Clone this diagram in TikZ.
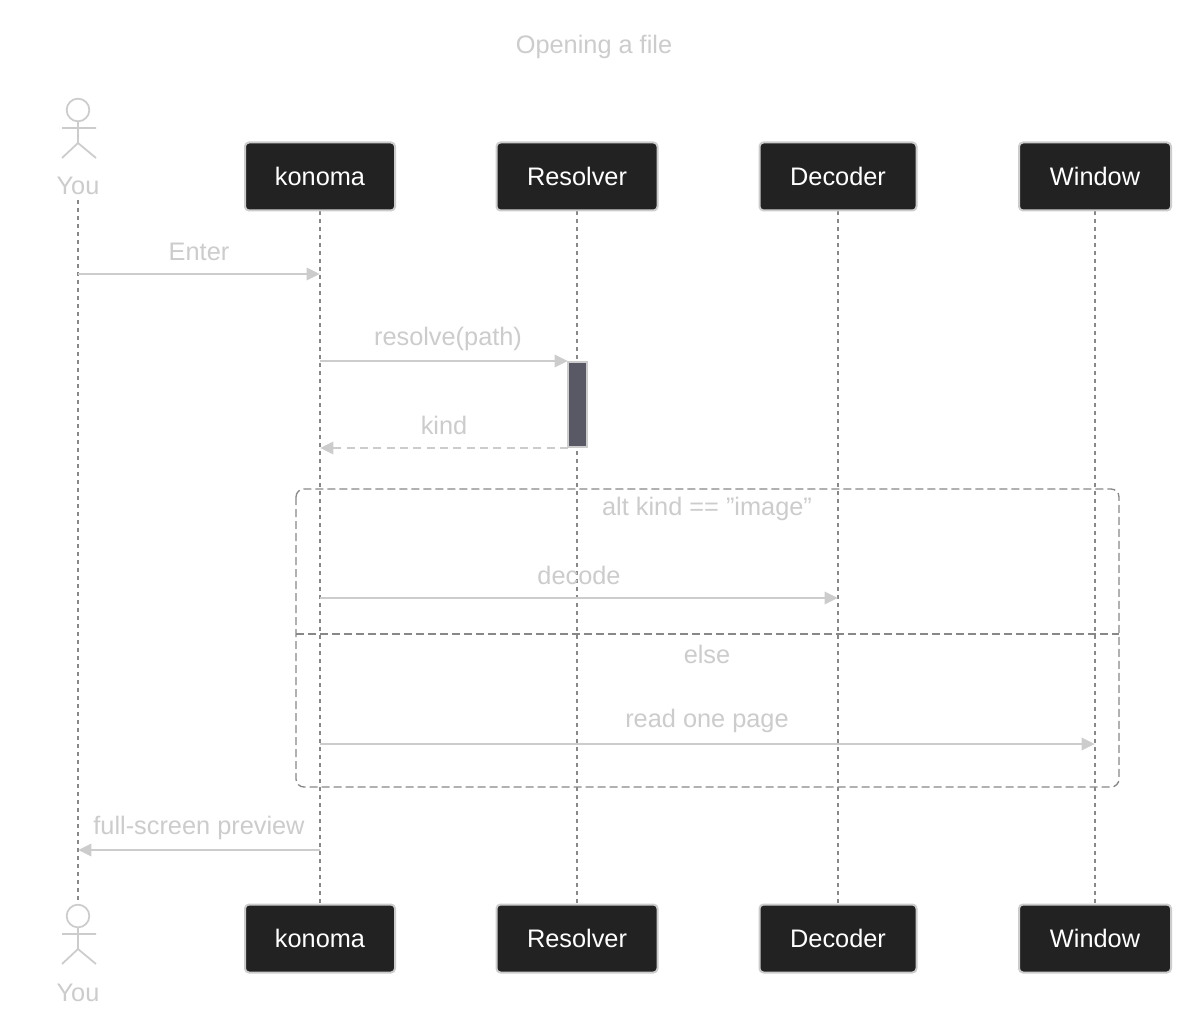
\documentclass[tikz,border=0pt]{standalone}
\usepackage{fontspec}
\setmainfont{Liberation Sans}
\usetikzlibrary{arrows.meta}
\definecolor{lt}{HTML}{CCCCCC}
\definecolor{boxf}{HTML}{222222}
\definecolor{dgray}{HTML}{888888}
\definecolor{actv}{HTML}{595966}
\tikzset{
 part/.style={draw=lt,line width=1.5pt,fill=boxf,rounded corners=3pt,text=white,font=\fontsize{19}{22}\selectfont,minimum height=51pt,inner sep=0pt},
 life/.style={draw=dgray,line width=0.9pt,dash pattern=on 3pt off 3pt},
 msg/.style={draw=lt,line width=2.2pt,-{Triangle[length=10pt,width=9pt,fill=lt]}},
 lbl/.style={text=lt,font=\fontsize{19}{22}\selectfont},
 actor/.style={draw=lt,line width=1.3pt}
}
\begin{document}
\begin{tikzpicture}[x=0.75pt,y=-0.75pt]
\useasboundingbox[fill=white] (0,0) rectangle (1188,1034);
\node[lbl] (title) at (594,47) {Opening a file};
\coordinate (y0) at (78,200); \coordinate (y1) at (78,904);
\draw[life] (y0) -- (y1);
\foreach \n/\x in {k/320,r/577,d/838,w/1095}{
 \coordinate (\n t) at (\x,211); \coordinate (\n b) at (\x,904);
 \draw[life] (\n t) -- (\n b);
}
\node[part,minimum width=112.5pt] (k1) at (320,176.5) {konoma};
\node[part,minimum width=120.75pt] (r1) at (577,176.5) {Resolver};
\node[part,minimum width=117.75pt] (d1) at (838,176.5) {Decoder};
\node[part,minimum width=114pt] (w1) at (1095,176.5) {Window};
\node[part,minimum width=112.5pt] (k2) at (320,938.5) {konoma};
\node[part,minimum width=120.75pt] (r2) at (577,938.5) {Resolver};
\node[part,minimum width=117.75pt] (d2) at (838,938.5) {Decoder};
\node[part,minimum width=114pt] (w2) at (1095,938.5) {Window};
\foreach \yy/\ly/\nm in {0/186/ua,806/993/ub}{
 \begin{scope}[yshift=-\yy*0.75pt]
 \draw[actor] (78,110) circle[radius=8.5pt];
 \draw[actor] (78,121) -- (78,143) (62,128) -- (96,128) (62,158) -- (78,143) -- (96,158);
 \end{scope}
 \node[lbl] (\nm) at (78,\ly) {You};
}
\coordinate (e1) at (78,274); \coordinate (e2) at (320,274);
\draw[msg] (e1) -- (e2); \node[lbl] (le) at (199,252) {Enter};
\coordinate (p1) at (320,361); \coordinate (p2) at (568,361);
\draw[msg] (p1) -- (p2); \node[lbl] (lp) at (448,339) {resolve(path)};
\draw[draw=lt,fill=actv,line width=1.2pt] (568,362) rectangle (587,447);
\coordinate (q1) at (568,448); \coordinate (q2) at (320,448);
\draw[msg,dash pattern=on 6pt off 4pt] (q1) -- (q2); \node[lbl] (lq) at (444,425) {kind};
\draw[draw=dgray,line width=1pt,dash pattern=on 6pt off 3pt,rounded corners=6pt] (296,489) rectangle (1119,787);
\draw[draw=dgray,line width=1pt,dash pattern=on 6pt off 3pt] (296,634) -- (1119,634);
\node[lbl] (la) at (707,509) {alt kind == "image"};
\node[lbl] (lel) at (707,654) {else};
\coordinate (c1) at (320,598); \coordinate (c2) at (838,598);
\draw[msg] (c1) -- (c2); \node[lbl] (lc) at (579,575) {decode};
\coordinate (o1) at (320,744); \coordinate (o2) at (1095,744);
\draw[msg] (o1) -- (o2); \node[lbl] (lo) at (707,721) {read one page};
\coordinate (f1) at (320,850); \coordinate (f2) at (78,850);
\draw[msg] (f1) -- (f2); \node[lbl] (lf) at (199,828) {full-screen preview};
\end{tikzpicture}
\end{document}
